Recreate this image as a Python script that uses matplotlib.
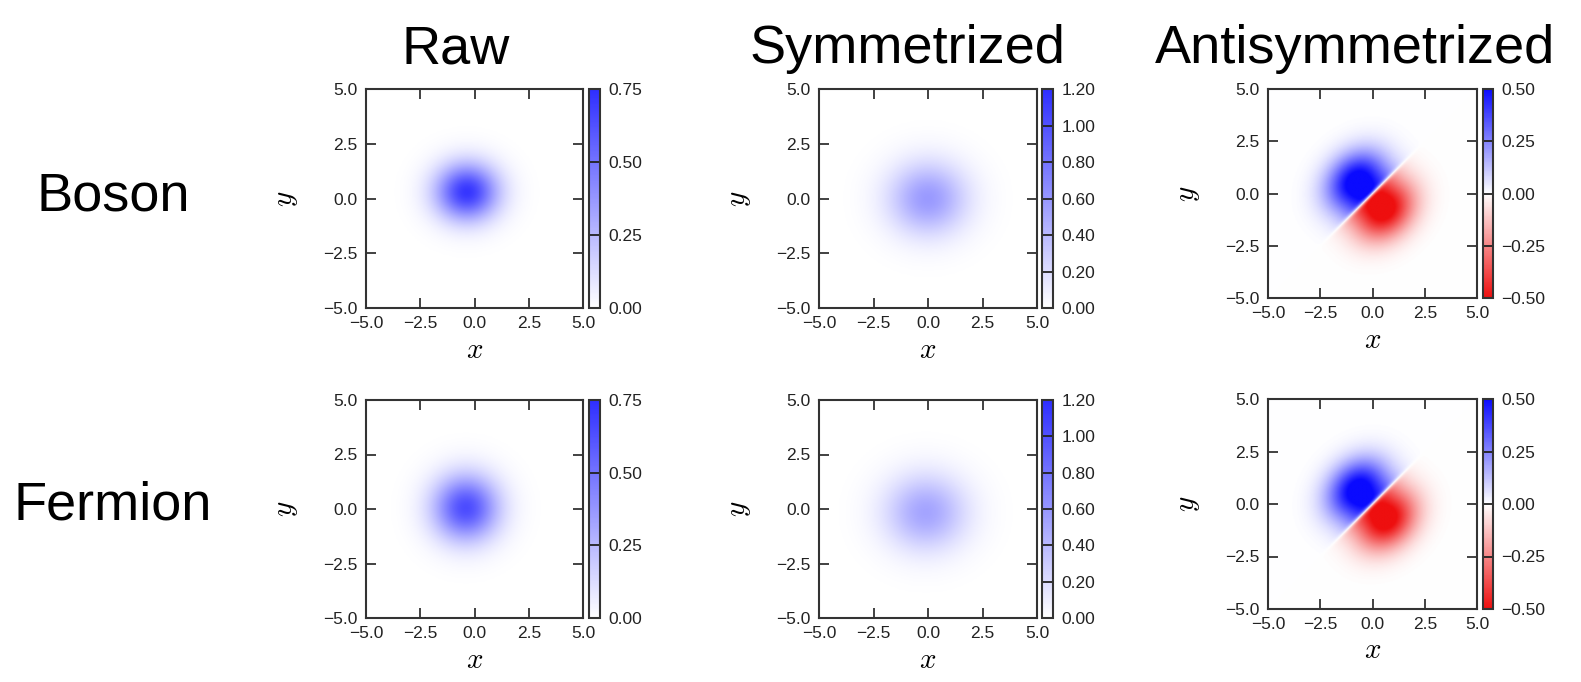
import numpy as np
import matplotlib
matplotlib.use('Agg')
import matplotlib.pyplot as plt
from matplotlib.colors import LinearSegmentedColormap
from matplotlib.ticker import FuncFormatter

# ---------------- data ----------------
col_titles = ['Raw', 'Symmetrized', 'Antisymmetrized']
row_titles = ['Boson', 'Fermion']
axis_ticks = [-5.0, -2.5, 0.0, 2.5, 5.0]
axis_range = [-5.0, 5.0]
cbar_ticks_raw = [0.0, 0.25, 0.50, 0.75]
cbar_ticks_sym = [0.0, 0.2, 0.4, 0.6, 0.8, 1.0, 1.2]
cbar_ticks_anti = [-0.50, -0.25, 0.0, 0.25, 0.50]

# blob parameters: amplitude, centre x, centre y, width x, width y
boson_raw = [0.72, -0.35, 0.30, 1.00, 0.90]
boson_sym = [0.58, 0.00, 0.00, 1.25, 1.15]
fermion_raw = [0.64, -0.40, 0.05, 1.05, 1.05]
fermion_sym = [0.52, -0.10, -0.15, 1.30, 1.20]
# antisymmetric lobes: amplitude, blue-lobe x, blue-lobe y, width along diagonal, width across
boson_anti = [0.54, -0.80, 0.60, 1.10, 0.85]
fermion_anti = [0.54, -0.75, 0.70, 1.10, 0.85]

N = 300
g = np.linspace(axis_range[0], axis_range[1], N)
X, Y = np.meshgrid(g, g)


def blob(p):
    a, cx, cy, sx, sy = p
    return a * np.exp(-((X - cx) ** 2) / (2 * sx ** 2) - ((Y - cy) ** 2) / (2 * sy ** 2))


def anti(p):
    a, lx, ly, su, sv = p

    def lobe(cx, cy):
        u = ((X - cx) + (Y - cy)) / np.sqrt(2)
        v = ((Y - cy) - (X - cx)) / np.sqrt(2)
        return a * np.exp(-u ** 2 / (2 * su ** 2) - v ** 2 / (2 * sv ** 2))

    return np.tanh((Y - X) / 0.15) * (lobe(lx, ly) + lobe(ly, lx))


fields = [[blob(boson_raw), blob(boson_sym), anti(boson_anti)],
          [blob(fermion_raw), blob(fermion_sym), anti(fermion_anti)]]

# ---------------- styling ----------------
blue_cmap = LinearSegmentedColormap.from_list('wb', ['#ffffff', '#2e2eff'])
anti_cmap = LinearSegmentedColormap.from_list('rwb', ['#ee0f0f', '#ffffff', '#0a0aff'])
col_cmaps = [blue_cmap, blue_cmap, anti_cmap]
col_lims = [(0.0, 0.75), (0.0, 1.2), (-0.5, 0.5)]
col_cticks = [cbar_ticks_raw, cbar_ticks_sym, cbar_ticks_anti]

W, H = 1581, 682
fig = plt.figure(figsize=(W / 100, H / 100), dpi=100)
fig.patch.set_facecolor('white')

tick_font = ['Liberation Sans', 'DejaVu Sans']
title_font = ['Liberation Sans', 'DejaVu Sans']
plt.rcParams['mathtext.fontset'] = 'cm'
plt.rcParams['axes.unicode_minus'] = True

fmt1 = FuncFormatter(lambda v, pos: ('%.1f' % v).replace('-', '\u2212'))
fmt2 = FuncFormatter(lambda v, pos: ('%.2f' % v).replace('-', '\u2212'))


def px_axes(l, t, r, b):
    return fig.add_axes([l / W, 1 - b / H, (r - l) / W, (b - t) / H])


# pixel boxes (left, top, right, bottom) for axes and colorbars
boxes = [
    [((366, 89, 583, 308), (589, 89, 600, 308)),
     ((819, 89, 1037, 308), (1042, 89, 1053, 308)),
     ((1268, 89, 1477, 298), (1483, 89, 1493, 298))],
    [((366, 400, 583, 618), (589, 400, 600, 618)),
     ((819, 400, 1037, 618), (1042, 400, 1053, 618)),
     ((1268, 399, 1477, 609), (1483, 399, 1493, 609))],
]

spine_col = '#333333'
for r in range(2):
    for c in range(3):
        abox, cbox = boxes[r][c]
        ax = px_axes(*abox)
        cax = px_axes(*cbox)
        vmin, vmax = col_lims[c]
        im = ax.imshow(fields[r][c], extent=[axis_range[0], axis_range[1], axis_range[0], axis_range[1]],
                       origin='lower', cmap=col_cmaps[c], vmin=vmin, vmax=vmax,
                       interpolation='bilinear', aspect='auto')
        ax.set_xlim(axis_range)
        ax.set_ylim(axis_range)
        ax.set_xticks(axis_ticks)
        ax.set_yticks(axis_ticks)
        ax.xaxis.set_major_formatter(fmt1)
        ax.yaxis.set_major_formatter(fmt1)
        ax.tick_params(direction='in', length=7, width=1.3, color=spine_col,
                       top=True, right=True, labelsize=12.5, pad=6, labelcolor='#222222')
        for lab in ax.get_xticklabels() + ax.get_yticklabels():
            lab.set_fontfamily(tick_font)
        for s in ax.spines.values():
            s.set_color(spine_col)
            s.set_linewidth(1.5)
        ax.set_xlabel('$x$', fontsize=21, labelpad=3)
        ax.set_ylabel('$y$', fontsize=21, labelpad=17)

        cb = fig.colorbar(im, cax=cax, ticks=col_cticks[c])
        cb.ax.yaxis.set_major_formatter(fmt2)
        cb.ax.tick_params(direction='in', length=8, width=1.3, color='#222222',
                          labelsize=12.5, pad=6, labelcolor='#222222')
        for lab in cb.ax.get_yticklabels():
            lab.set_fontfamily(tick_font)
        cb.outline.set_edgecolor(spine_col)
        cb.outline.set_linewidth(1.5)

# column titles
title_x = [456, 907, 1355]
for t, xpx in zip(col_titles, title_x):
    fig.text(xpx / W, 1 - 63 / H, t, ha='center', va='baseline',
             fontsize=39, family=title_font, color='black')

# row titles
row_base = [211, 520]
for t, ypx in zip(row_titles, row_base):
    fig.text(113 / W, 1 - ypx / H, t, ha='center', va='baseline',
             fontsize=39, family=title_font, color='black')

fig.savefig('out.png', dpi=100, facecolor='white')
